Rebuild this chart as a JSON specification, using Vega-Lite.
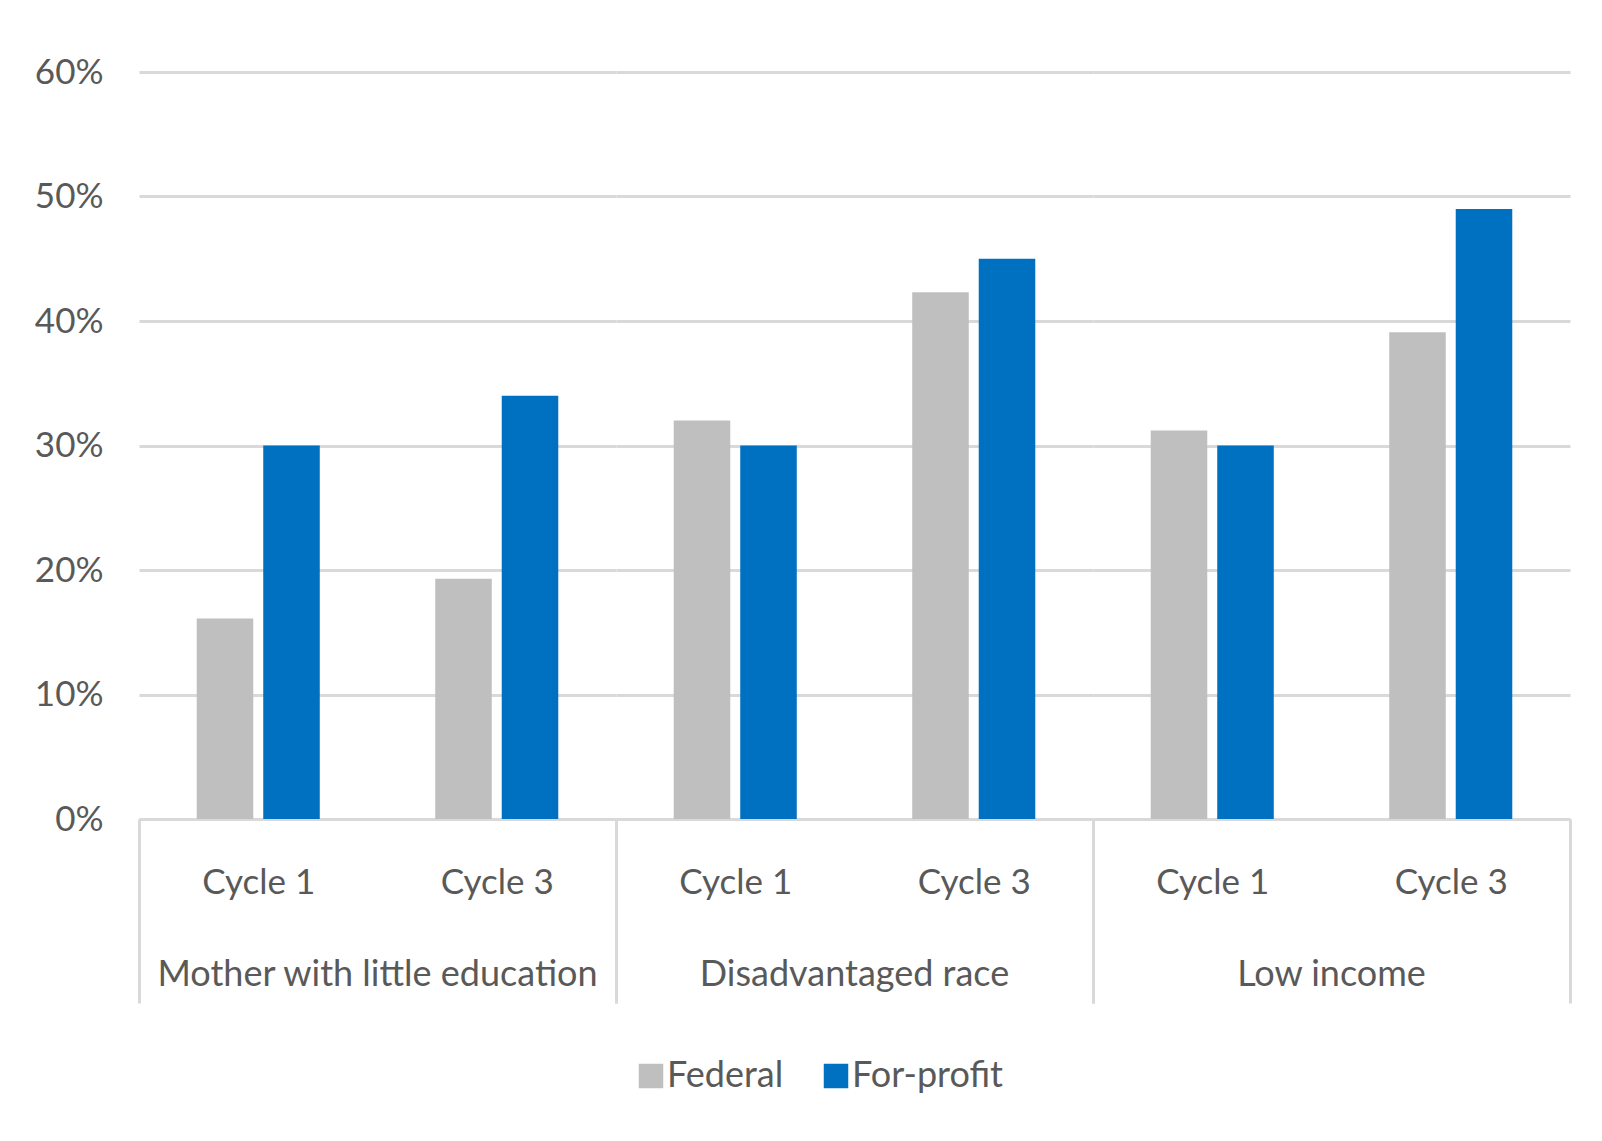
{
  "$schema": "https://vega.github.io/schema/vega-lite/v6.json",
  "background": "white",
  "padding": {"left": 34, "top": 55, "right": 0, "bottom": 0},
  "config": {
    "font": "Lato",
    "view": {"stroke": null},
    "axis": {"labelFont": "Lato", "labelColor": "#595959", "labelFontSize": 35},
    "legend": {"labelFont": "Lato", "labelColor": "#595959", "labelFontSize": 36}
  },
  "data": {"values": [
    {"group": "Mother with little education", "cycle": "Cycle 1", "series": "Federal", "value": 0.161},
    {"group": "Mother with little education", "cycle": "Cycle 1", "series": "For-profit", "value": 0.30},
    {"group": "Mother with little education", "cycle": "Cycle 3", "series": "Federal", "value": 0.193},
    {"group": "Mother with little education", "cycle": "Cycle 3", "series": "For-profit", "value": 0.34},
    {"group": "Disadvantaged race", "cycle": "Cycle 1", "series": "Federal", "value": 0.32},
    {"group": "Disadvantaged race", "cycle": "Cycle 1", "series": "For-profit", "value": 0.30},
    {"group": "Disadvantaged race", "cycle": "Cycle 3", "series": "Federal", "value": 0.423},
    {"group": "Disadvantaged race", "cycle": "Cycle 3", "series": "For-profit", "value": 0.45},
    {"group": "Low income", "cycle": "Cycle 1", "series": "Federal", "value": 0.312},
    {"group": "Low income", "cycle": "Cycle 1", "series": "For-profit", "value": 0.30},
    {"group": "Low income", "cycle": "Cycle 3", "series": "Federal", "value": 0.391},
    {"group": "Low income", "cycle": "Cycle 3", "series": "For-profit", "value": 0.49}
  ]},
  "facet": {
    "column": {
      "field": "group", "type": "nominal",
      "sort": ["Mother with little education", "Disadvantaged race", "Low income"],
      "header": {"title": null, "labelOrient": "bottom", "labelFont": "Lato", "labelFontSize": 36, "labelColor": "#595959", "labelPadding": -47}
    }
  },
  "spacing": 0,
  "spec": {
    "width": 477,
    "height": 747,
    "mark": {"type": "bar"},
    "encoding": {
      "x": {
        "field": "cycle", "type": "nominal",
        "scale": {"paddingInner": 0, "paddingOuter": 0},
        "axis": {
          "title": null, "labelAngle": 0,
          "domainColor": "#d9d9d9", "domainWidth": 3,
          "tickBand": "extent", "tickSize": 184, "tickWidth": 3,
          "tickColor": {"condition": {"test": "datum.value === 'Cycle 1'", "value": "transparent"}, "value": "#d9d9d9"},
          "labelPadding": -138, "labelBaseline": "top"
        }
      },
      "xOffset": {
        "field": "series", "type": "nominal",
        "scale": {"paddingInner": 0.15, "paddingOuter": 0.868}
      },
      "y": {
        "field": "value", "type": "quantitative",
        "scale": {"domain": [0, 0.6], "nice": false},
        "axis": {
          "title": null, "format": ".0%",
          "values": [0, 0.1, 0.2, 0.3, 0.4, 0.5, 0.6],
          "domain": false, "ticks": false,
          "gridColor": "#d9d9d9", "gridWidth": 3, "labelPadding": 36
        }
      },
      "color": {
        "field": "series", "type": "nominal",
        "scale": {"domain": ["Federal", "For-profit"], "range": ["#bfbfbf", "#0070c0"]},
        "legend": {
          "title": null, "orient": "none", "direction": "horizontal",
          "legendX": 494, "legendY": 986, "labelLimit": 0,
          "symbolType": "square", "symbolSize": 600, "symbolStrokeWidth": 0,
          "labelOffset": -2, "columnPadding": 34
        }
      }
    }
  }
}
